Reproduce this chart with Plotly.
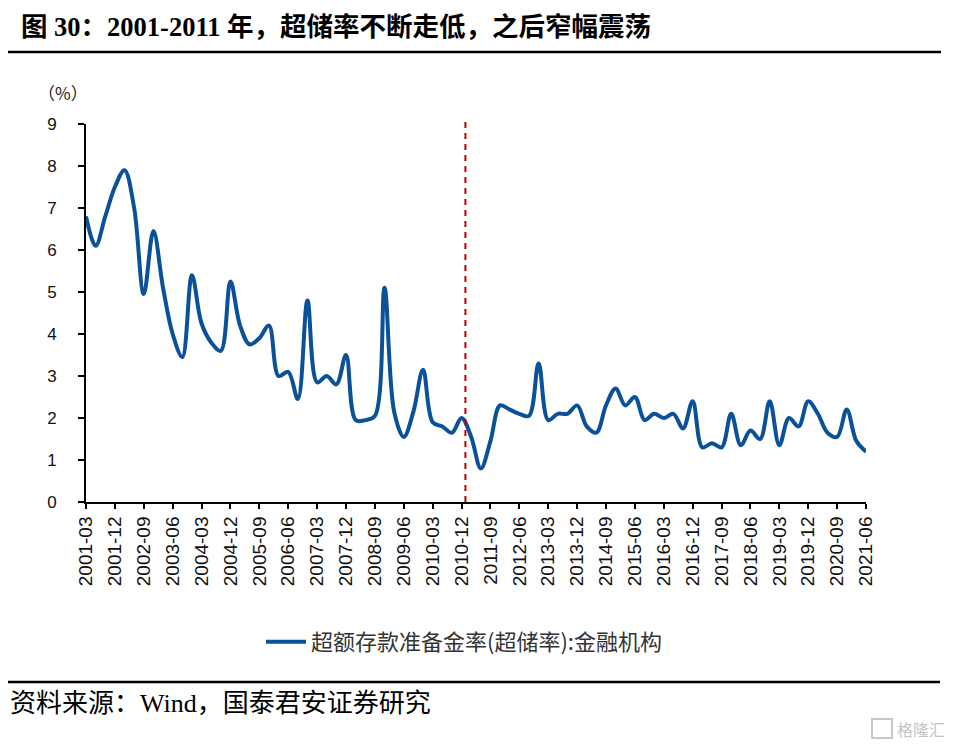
import plotly.graph_objects as go

# ---- data ----
quarters = [f"{y}-{m:02d}" for y in range(2001, 2022) for m in (3, 6, 9, 12)]
quarters = quarters[:quarters.index("2021-06") + 1]

excess_reserve_ratio = [
    6.8, 6.1, 6.8, 7.5, 7.9, 7.0, 4.95, 6.45, 5.1, 4.0,
    3.45, 5.4, 4.25, 3.8, 3.6, 5.25, 4.2, 3.75, 3.9, 4.2,
    3.0, 3.1, 2.45, 4.8, 2.85, 3.0, 2.8, 3.5, 1.95, 1.95,
    2.05, 5.1, 2.15, 1.55, 2.15, 3.15, 1.9, 1.8, 1.65, 2.0,
    1.55, 0.8, 1.45, 2.3, 2.2, 2.1, 2.05, 3.3, 1.95, 2.1,
    2.1, 2.3, 1.8, 1.65, 2.3, 2.7, 2.3, 2.5, 1.95, 2.1,
    2.0, 2.1, 1.75, 2.4, 1.3, 1.4, 1.3, 2.1, 1.35, 1.7,
    1.5, 2.4, 1.35, 2.0, 1.8, 2.4, 2.1, 1.65, 1.55, 2.2,
    1.45, 1.2,
]

tick_labels = quarters[::3]
y_ticks = list(range(0, 10))
series_name = "超额存款准备金率(超储率):金融机构"
title_text = "<b>图 30：2001-2011 年，超储率不断走低，之后窄幅震荡</b>"
source_text = "资料来源：Wind，国泰君安证券研究"
unit_text = "（%）"
divider_category = 39.4  # between 2010-12 and 2011-03

# ---- layout geometry (reference pixels; page body adds an 8px offset) ----
OFF = 8
W, H = 953 - OFF, 746 - OFF
L, R, T, B = 86 - OFF, 87, 124 - OFF, 244
PW, PH = W - L - R, H - T - B


def px(x):
    return (x - OFF - L) / PW


def py(y):
    return (H - B - (y - OFF)) / PH


fig = go.Figure()
fig.add_trace(go.Scatter(
    x=quarters, y=excess_reserve_ratio, mode="lines",
    line=dict(color="#0A5199", width=4, shape="spline", smoothing=1.0),
    name=series_name, showlegend=True,
))

fig.update_layout(
    width=W, height=H,
    margin=dict(l=L, r=R, t=T, b=B),
    paper_bgcolor="white", plot_bgcolor="white",
    showlegend=True,
    legend=dict(
        x=px(261), y=py(642), xanchor="left", yanchor="middle",
        font=dict(family="Noto Sans CJK SC", size=22, color="#333333"),
        bgcolor="rgba(0,0,0,0)", itemwidth=40,
    ),
    xaxis=dict(
        type="category", range=[0, len(quarters) - 1],
        tickmode="array", tickvals=tick_labels, ticktext=tick_labels,
        tickangle=-90, ticks="outside", ticklen=5, tickwidth=1.5, tickcolor="black",
        showline=True, linecolor="black", linewidth=1.8,
        showgrid=False, zeroline=False,
        tickfont=dict(family="Liberation Sans", size=19, color="#111111"),
    ),
    yaxis=dict(
        range=[0, 9], tickmode="array", tickvals=y_ticks,
        ticks="outside", ticklen=6, tickwidth=1.5, tickcolor="black",
        showline=True, linecolor="black", linewidth=1.8,
        showgrid=False, zeroline=False,
        ticklabelstandoff=18,
        tickfont=dict(family="Liberation Sans", size=17, color="#111111"),
    ),
)

# red dashed divider
fig.add_shape(type="line", xref="x", yref="paper",
              x0=divider_category, x1=divider_category, y0=0, y1=py(121),
              line=dict(color="#C00000", width=2, dash="6px,5px"))

# header / footer rules
fig.add_shape(type="line", xref="paper", yref="paper",
              x0=px(8), x1=px(941), y0=py(52), y1=py(52),
              line=dict(color="black", width=2.5))
fig.add_shape(type="line", xref="paper", yref="paper",
              x0=px(8), x1=px(940), y0=py(682), y1=py(682),
              line=dict(color="black", width=2.5))

# title
fig.add_annotation(text=title_text, xref="paper", yref="paper",
                   x=px(19), y=py(27), xanchor="left", yanchor="middle",
                   showarrow=False,
                   font=dict(family="Liberation Serif, Noto Sans CJK SC", size=26.5, color="black"))
# unit label
fig.add_annotation(text=unit_text, xref="paper", yref="paper",
                   x=px(36), y=py(92), xanchor="left", yanchor="middle",
                   showarrow=False,
                   font=dict(family="Noto Sans CJK SC", size=17, color="#222222"))
# source
fig.add_annotation(text=source_text, xref="paper", yref="paper",
                   x=px(8), y=py(703), xanchor="left", yanchor="middle",
                   showarrow=False,
                   font=dict(family="Liberation Serif, Noto Sans CJK SC", size=26, color="black"))
# watermark
fig.add_shape(type="rect", xref="paper", yref="paper",
              x0=px(872), x1=px(892), y0=py(738), y1=py(719),
              line=dict(color="#C8C8C8", width=2))
fig.add_annotation(text="格隆汇", xref="paper", yref="paper",
                   x=px(895), y=py(729), xanchor="left", yanchor="middle",
                   showarrow=False,
                   font=dict(family="Noto Sans CJK SC", size=16, color="#C4C4C4"))

fig.write_html("out.html")
